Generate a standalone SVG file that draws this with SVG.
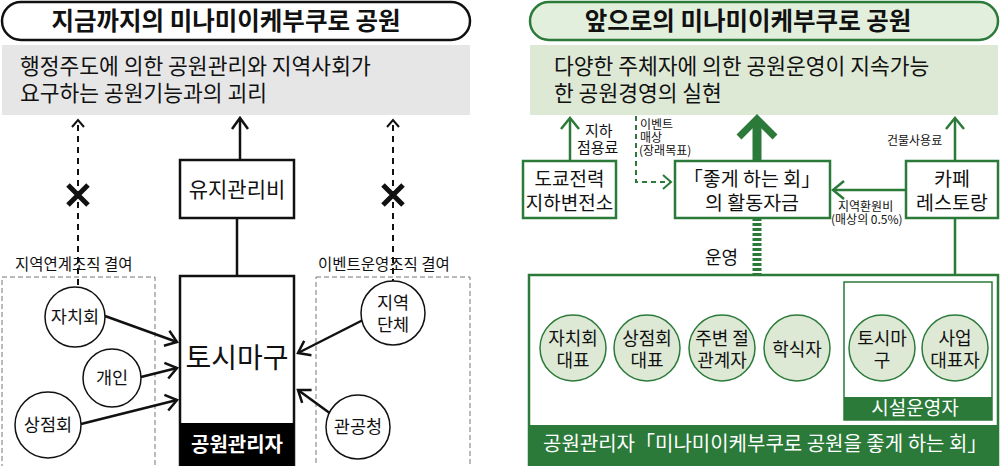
<svg xmlns="http://www.w3.org/2000/svg" width="1000" height="466" viewBox="0 0 1000 466">
<style>
text{font-family:"Noto Sans CJK KR","Noto Sans",sans-serif;fill:#111}
.title{font-size:24.5px;font-weight:bold;text-anchor:middle}
.big{font-size:21.5px}
.mid{text-anchor:middle}
.c{font-size:17.5px;text-anchor:middle}
.gc{font-size:18px;text-anchor:middle}
.s{font-size:12px}
.lab{font-size:15.5px}
.w{fill:#fff}
.blk{stroke:#111;stroke-width:2.5;fill:none}
.grn{stroke:#2b7a3a;stroke-width:2.5;fill:none}
.circ{fill:#fff;stroke:#111;stroke-width:1.5}
.gcirc{fill:#dde9d5;stroke:#2b7a3a;stroke-width:1.5}
</style>
<defs>
<marker id="ab" markerUnits="userSpaceOnUse" markerWidth="24" markerHeight="24" viewBox="-12 -12 24 24" refX="0" refY="0" orient="auto"><polyline points="-11,-8 0,0 -11,8" fill="none" stroke="#111" stroke-width="2.5"/></marker>
<marker id="abs" markerUnits="userSpaceOnUse" markerWidth="20" markerHeight="20" viewBox="-10 -10 20 20" refX="0" refY="0" orient="auto"><polyline points="-7,-6 0,0 -7,6" fill="none" stroke="#111" stroke-width="2"/></marker>
<marker id="ag" markerUnits="userSpaceOnUse" markerWidth="24" markerHeight="24" viewBox="-12 -12 24 24" refX="0" refY="0" orient="auto"><polyline points="-11,-9 0,0 -11,9" fill="none" stroke="#2b7a3a" stroke-width="2.5"/></marker>
<marker id="ags" markerUnits="userSpaceOnUse" markerWidth="20" markerHeight="20" viewBox="-10 -10 20 20" refX="0" refY="0" orient="auto"><polyline points="-8,-7 0,0 -8,7" fill="none" stroke="#2b7a3a" stroke-width="2"/></marker>
</defs>
<rect width="1000" height="466" fill="#fff"/>

<!-- LEFT -->
<g id="left-title"><rect x="2" y="2" width="468" height="38" rx="19" fill="#fff" stroke="#111" stroke-width="2.5"/><text class="title" x="226" y="30">지금까지의 미나미이케부쿠로 공원</text></g>
<g id="left-summary"><rect x="2" y="45" width="468" height="70" fill="#e6e6e6"/><text class="big" x="20" y="74">행정주도에 의한 공원관리와 지역사회가<tspan x="20" y="101">요구하는 공원기능과의 괴리</tspan></text></g>
<g id="left-group-a"><rect x="2" y="277" width="153" height="195" fill="none" stroke="#777" stroke-width="1" stroke-dasharray="5,3"/><text class="lab" x="15" y="270">지역연계조직 결여</text></g>
<g id="left-group-b"><rect x="316" y="277" width="154" height="195" fill="none" stroke="#777" stroke-width="1" stroke-dasharray="5,3"/><text class="lab" x="318" y="270">이벤트운영조직 결여</text></g>

<g id="connectors-left">
<line x1="240" y1="160" x2="240" y2="118" class="blk" marker-end="url(#ab)"/>
<line x1="237" y1="218" x2="237" y2="276" class="blk"/>
<line x1="78" y1="285" x2="78" y2="120" stroke="#111" stroke-width="2" stroke-dasharray="6,5" marker-end="url(#abs)"/>
<line x1="393" y1="285" x2="393" y2="120" stroke="#111" stroke-width="2" stroke-dasharray="6,5" marker-end="url(#abs)"/>
<path d="M68,185 L88,205 M88,185 L68,205" stroke="#111" stroke-width="5"/>
<path d="M383,185 L403,205 M403,185 L383,205" stroke="#111" stroke-width="5"/>
<line x1="105" y1="316" x2="177" y2="342" class="blk" marker-end="url(#ab)"/>
<line x1="141" y1="377" x2="177" y2="368" class="blk" marker-end="url(#ab)"/>
<line x1="81" y1="424" x2="177" y2="400" class="blk" marker-end="url(#ab)"/>
<line x1="363" y1="320" x2="298" y2="353" class="blk" marker-end="url(#ab)"/>
<line x1="331" y1="414" x2="298" y2="390" class="blk" marker-end="url(#ab)"/>
</g>

<g id="maintenance"><rect x="180" y="160" width="114" height="58" fill="#fff" stroke="#111" stroke-width="2.5"/><text class="mid" x="237" y="197" font-size="21">유지관리비</text></g>
<g id="toshima"><rect x="180" y="276" width="114" height="195" fill="#fff" stroke="#111" stroke-width="2.5"/><rect x="180" y="423" width="114" height="48" fill="#000"/><text class="mid" x="237" y="368" font-size="28">토시마구</text><text class="mid w" x="237" y="452" font-size="20" font-weight="bold">공원관리자</text></g>
<g id="l-jichihoe"><circle class="circ" cx="75" cy="317" r="30"/><text class="c" x="75" y="323">자치회</text></g>
<g id="l-gaein"><circle class="circ" cx="112" cy="378" r="29"/><text class="c" x="112" y="384">개인</text></g>
<g id="l-sangjeom"><circle class="circ" cx="48" cy="425" r="33"/><text class="c" x="48" y="431">상점회</text></g>
<g id="l-jiyeok"><circle class="circ" cx="393" cy="313" r="32"/><text class="c" x="393" y="309">지역<tspan x="393" y="331">단체</tspan></text></g>
<g id="l-gwangong"><circle class="circ" cx="358" cy="427" r="32"/><text class="c" x="358" y="433">관공청</text></g>

<!-- RIGHT -->
<g id="right-title"><rect x="530" y="2" width="468" height="38" rx="19" fill="#e3efdd" stroke="#2b7a3a" stroke-width="2.5"/><text class="title" x="748" y="30">앞으로의 미나미이케부쿠로 공원</text></g>
<g id="right-summary"><rect x="530" y="45" width="468" height="70" fill="#dde9d5"/><text class="big" x="554" y="74">다양한 주체자에 의한 공원운영이 지속가능<tspan x="554" y="101">한 공원경영의 실현</tspan></text></g>

<g id="connectors-right">
<line x1="570" y1="161" x2="570" y2="118" class="grn" marker-end="url(#ag)"/>
<polyline points="636,116 636,182 671,182" fill="none" stroke="#2b7a3a" stroke-width="2" stroke-dasharray="5,4" marker-end="url(#ags)"/>
<line x1="757" y1="161" x2="757" y2="122" stroke="#2b7a3a" stroke-width="9"/>
<polyline points="739,137 757,119 775,137" fill="none" stroke="#2b7a3a" stroke-width="7"/>
<line x1="757" y1="218" x2="757" y2="275" stroke="#2b7a3a" stroke-width="9" stroke-dasharray="3,2"/>
<line x1="906" y1="190" x2="833" y2="190" class="grn" marker-end="url(#ag)"/>
<line x1="955" y1="161" x2="955" y2="118" class="grn" marker-end="url(#ag)"/>
<line x1="955" y1="218" x2="955" y2="315" class="grn"/>
</g>
<g id="labels-right">
<text x="585" y="136" font-size="15">지하<tspan x="577" y="153">점용료</tspan></text>
<text class="s" x="640" y="129">이벤트<tspan x="640" y="142">매상</tspan><tspan x="639" y="155">(장래목표)</tspan></text>
<text class="s" x="887" y="145">건물사용료</text>
<text class="s" x="838" y="211">지역환원비<tspan x="831" y="224">(매상의 0.5%)</tspan></text>
<text x="705" y="264" font-size="18">운영</text>
</g>

<g id="tepco"><rect x="523" y="161" width="93" height="57" fill="#fff" stroke="#2b7a3a" stroke-width="2.5"/><text class="mid" x="569.5" y="186" font-size="19">도쿄전력<tspan x="569.5" y="210">지하변전소</tspan></text></g>
<g id="funds"><rect x="675" y="161" width="155" height="57" fill="#fff" stroke="#2b7a3a" stroke-width="2.5"/><text class="mid" x="752" y="186" font-size="19.5">「좋게 하는 회」<tspan x="752" y="210">의 활동자금</tspan></text></g>
<g id="cafe"><rect x="906" y="161" width="92" height="57" fill="#fff" stroke="#2b7a3a" stroke-width="2.5"/><text class="mid" x="952" y="186" font-size="19.5">카페<tspan x="952" y="210">레스토랑</tspan></text></g>

<g id="park-manager"><rect x="529" y="275" width="469" height="196" fill="#fff" stroke="#2b7a3a" stroke-width="2.5"/><rect x="529" y="425" width="469" height="46" fill="#2b7a3a"/><text class="w" x="543" y="451" font-size="20">공원관리자「미나미이케부쿠로 공원을 좋게 하는 회」</text></g>
<g id="facility-ops"><rect x="844" y="282" width="148" height="138" fill="#fff" stroke="#2b7a3a" stroke-width="1.5"/><rect x="844" y="397" width="148" height="23" fill="#2b7a3a"/><text class="mid w" x="915" y="415" font-size="19">시설운영자</text></g>

<g id="r-jichihoe"><circle class="gcirc" cx="573" cy="348" r="33"/><text class="gc" x="573" y="345">자치회<tspan x="573" y="367">대표</tspan></text></g>
<g id="r-sangjeom"><circle class="gcirc" cx="647" cy="348" r="33"/><text class="gc" x="647" y="345">상점회<tspan x="647" y="367">대표</tspan></text></g>
<g id="r-temple"><circle class="gcirc" cx="722" cy="348" r="33"/><text class="gc" x="722" y="345">주변 절<tspan x="722" y="367">관계자</tspan></text></g>
<g id="r-expert"><circle class="gcirc" cx="797" cy="348" r="33"/><text class="gc" x="797" y="356">학식자</text></g>
<g id="r-toshima"><circle class="gcirc" cx="882" cy="348" r="33"/><text class="gc" x="882" y="345">토시마<tspan x="882" y="367">구</tspan></text></g>
<g id="r-business"><circle class="gcirc" cx="955" cy="348" r="33"/><text class="gc" x="955" y="345">사업<tspan x="955" y="367">대표자</tspan></text></g>
</svg>
